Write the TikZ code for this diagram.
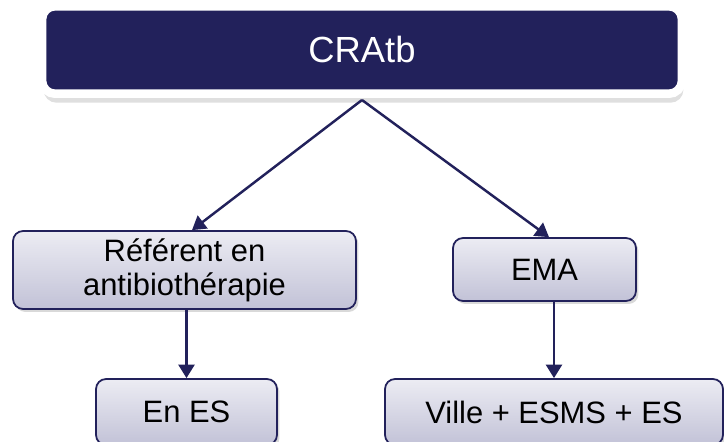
\documentclass[tikz,border=0pt]{standalone}
\usepackage{fontspec}
\setmainfont{Liberation Sans}
\usetikzlibrary{arrows.meta,shadows}
\definecolor{navy}{RGB}{34,33,91}
\definecolor{boxtop}{RGB}{236,236,243}
\definecolor{boxbot}{RGB}{194,194,215}

\begin{document}
\begin{tikzpicture}[x=0.02cm,y=-0.02cm,
  head/.style={draw=white,line width=0.17cm,fill=navy,rounded corners=0.26cm,
    text=white,minimum width=12.8cm,minimum height=1.75cm,inner sep=0pt,
    font=\fontsize{20.7}{24}\selectfont,
    drop shadow={shadow xshift=0.03cm,shadow yshift=-0.18cm,opacity=0.25}},
  box/.style={draw=navy,line width=1pt,rounded corners=0.2cm,
    top color=boxtop,bottom color=boxbot,inner sep=0pt,align=center,
    font=\fontsize{17.6}{19.3}\selectfont,
    drop shadow={shadow xshift=0.05cm,shadow yshift=-0.06cm,opacity=0.3}},
  conn/.style={navy,line width=1.4pt,-{Triangle[length=0.27cm,width=0.32cm]}}]
\useasboundingbox (0,0) rectangle (724,442);
\clip (0,0) rectangle (724,442);
% top
\node[head] (cratb) at (362,50) {CRAtb};
\coordinate (fork) at (362,100);
% second row
\node[box,minimum width=6.86cm,minimum height=1.56cm] (ref) at (184.5,270)
  {Référent en\\antibiothérapie};
\node[box,minimum width=3.66cm,minimum height=1.26cm] (ema) at (544.5,269.5) {EMA};
% bottom row
\node[box,minimum width=3.62cm,minimum height=1.32cm] (enes) at (186.5,412) {En ES};
\node[box,minimum width=6.76cm,minimum height=1.32cm] (ville) at (554,412)
  {Ville + ESMS + ES};
% links
\draw[conn] (fork) -- ([xshift=0.15cm]ref.north);
\draw[conn] (fork) -- ([xshift=0.09cm]ema.north);
\draw[conn] (ref.south -| enes.north) -- (enes.north);
\draw[conn] (ema.south -| ville.north) -- (ville.north);
\end{tikzpicture}
\end{document}
